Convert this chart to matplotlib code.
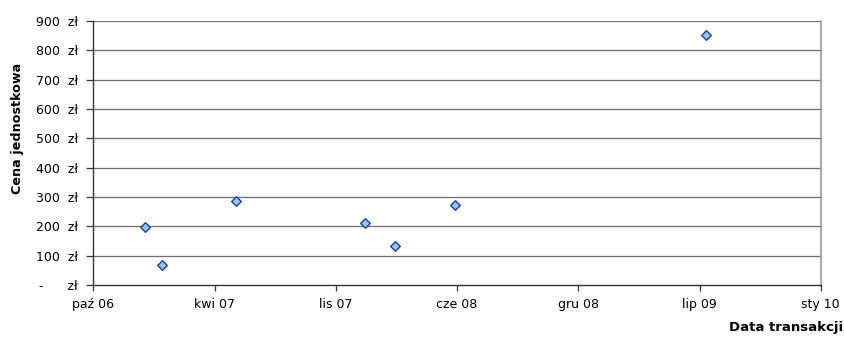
import datetime as dt
import matplotlib
matplotlib.use("Agg")
import matplotlib.pyplot as plt
import matplotlib.dates as mdates
from matplotlib.ticker import FuncFormatter, FixedLocator

plt.rcParams["font.family"] = ["DejaVu Sans"]

# transaction dates and unit prices
dates = ["2007-01-04", "2007-02-01", "2007-06-02", "2008-01-02",
         "2008-02-19", "2008-05-29", "2009-07-17"]
prices = [197, 68, 286, 212, 133, 273, 853]

PL_MONTHS = ["sty", "lut", "mar", "kwi", "maj", "cze",
             "lip", "sie", "wrz", "paź", "lis", "gru"]

x = [mdates.date2num(dt.date.fromisoformat(d)) for d in dates]
x0 = mdates.date2num(dt.date(2006, 10, 10))
x_ticks = [x0 + 200 * i for i in range(7)]

fig = plt.figure(figsize=(8.44, 3.41), dpi=100)
ax = fig.add_axes([0.1105, 0.164, 0.862, 0.774])

for v in range(100, 1000, 100):
    ax.axhline(v, color="#6e6e6e", lw=0.9, zorder=1)

ax.scatter(x, prices, marker="D", s=24, facecolor="#93c6f2",
           edgecolor="#1f3f99", linewidth=1.0, zorder=3)

ax.set_xlim(x_ticks[0], x_ticks[-1])
ax.set_ylim(0, 900)

ax.xaxis.set_major_locator(FixedLocator(x_ticks))


def fmt_date(v, pos):
    d = mdates.num2date(v)
    return f"{PL_MONTHS[d.month - 1]} {d.year % 100:02d}"


def fmt_pln(v, pos):
    if v == 0:
        return "-      zł"
    return f"{int(v)}  zł"


ax.xaxis.set_major_formatter(FuncFormatter(fmt_date))
ax.yaxis.set_major_locator(FixedLocator(range(0, 1000, 100)))
ax.yaxis.set_major_formatter(FuncFormatter(fmt_pln))

ax.tick_params(axis="both", colors="#000000", direction="out")
ax.tick_params(axis="x", labelsize=9, length=4, width=0.9, pad=5, color="#333333")
ax.tick_params(axis="y", labelsize=9, length=5, width=0.9, pad=6, color="#333333")

for side in ("left", "bottom"):
    ax.spines[side].set_color("#333333")
    ax.spines[side].set_linewidth(1.0)
ax.spines["right"].set_color("#9a9a9a")
ax.spines["right"].set_linewidth(1.2)
ax.spines["top"].set_visible(False)

fig.text(0.021, 0.625, "Cena jednostkowa", rotation=90, fontsize=9.2,
         fontweight="bold", ha="center", va="center")
fig.text(0.999, 0.04, "Data transakcji", fontsize=9.5, fontweight="bold",
         ha="right", va="center")

fig.savefig("out.png", dpi=100)
